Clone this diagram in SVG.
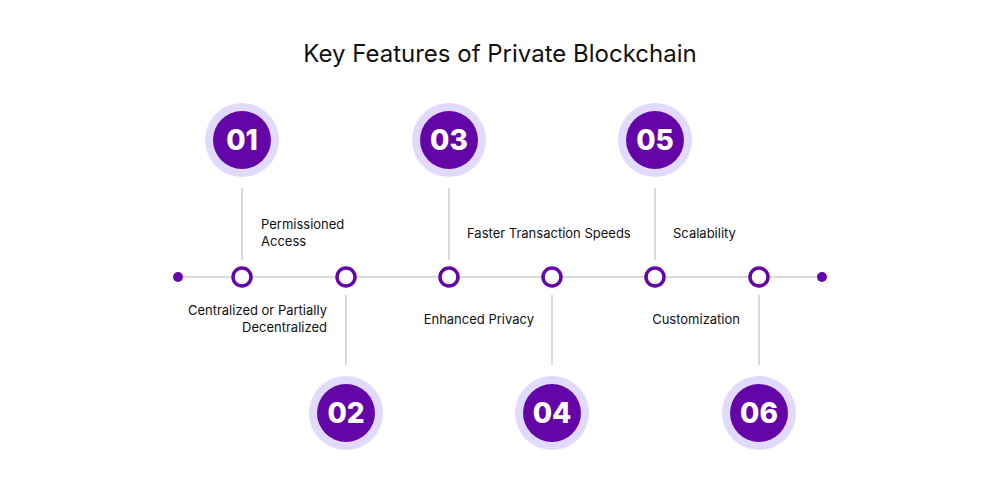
<svg xmlns="http://www.w3.org/2000/svg" width="1000" height="500" viewBox="0 0 1000 500">
<style>
.halo{fill:#e2dafc}.core{fill:#6405a8}.num{font-family:Inter,"Liberation Sans",sans-serif;font-weight:800;font-size:28px;fill:#fff;text-anchor:middle}
.ring{fill:#fff;stroke:#6405a8;stroke-width:3.5}.ln{stroke:#d9d9d9;stroke-width:2;fill:none}
.lbl{font-family:Inter,"Liberation Sans",sans-serif;font-size:13px;fill:#111}
.title{font-family:Inter,"Liberation Sans",sans-serif;font-size:24px;fill:#111;text-anchor:middle}
</style>
<rect width="1000" height="500" fill="#fff"/>
<text class="title" x="500" y="62">Key Features of Private Blockchain</text>
<g id="connectors">
<line class="ln" x1="178" y1="277" x2="822" y2="277"/>
<line class="ln" x1="242" y1="188" x2="242" y2="260"/>
<line class="ln" x1="449" y1="188" x2="449" y2="260"/>
<line class="ln" x1="655" y1="188" x2="655" y2="260"/>
<line class="ln" x1="346" y1="295" x2="346" y2="365"/>
<line class="ln" x1="552" y1="295" x2="552" y2="365"/>
<line class="ln" x1="759" y1="295" x2="759" y2="365"/>
</g>
<circle cx="178" cy="277" r="5" class="core"/>
<circle cx="822" cy="277" r="5" class="core"/>
<g id="n1"><circle class="halo" cx="242" cy="140" r="37"/><circle class="core" cx="242" cy="140" r="29"/><text class="num" x="242" y="150">01</text><circle class="ring" cx="242" cy="277" r="9"/><text class="lbl" x="261" y="229">Permissioned</text><text class="lbl" x="261" y="246">Access</text></g>
<g id="n2"><circle class="halo" cx="346" cy="413" r="37"/><circle class="core" cx="346" cy="413" r="29"/><text class="num" x="346" y="423">02</text><circle class="ring" cx="346" cy="277" r="9"/><text class="lbl" x="327" y="315" text-anchor="end">Centralized or Partially</text><text class="lbl" x="327" y="332" text-anchor="end">Decentralized</text></g>
<g id="n3"><circle class="halo" cx="449" cy="140" r="37"/><circle class="core" cx="449" cy="140" r="29"/><text class="num" x="449" y="150">03</text><circle class="ring" cx="449" cy="277" r="9"/><text class="lbl" x="467" y="238">Faster Transaction Speeds</text></g>
<g id="n4"><circle class="halo" cx="552" cy="413" r="37"/><circle class="core" cx="552" cy="413" r="29"/><text class="num" x="552" y="423">04</text><circle class="ring" cx="552" cy="277" r="9"/><text class="lbl" x="534" y="324" text-anchor="end">Enhanced Privacy</text></g>
<g id="n5"><circle class="halo" cx="655" cy="140" r="37"/><circle class="core" cx="655" cy="140" r="29"/><text class="num" x="655" y="150">05</text><circle class="ring" cx="655" cy="277" r="9"/><text class="lbl" x="673" y="238">Scalability</text></g>
<g id="n6"><circle class="halo" cx="759" cy="413" r="37"/><circle class="core" cx="759" cy="413" r="29"/><text class="num" x="759" y="423">06</text><circle class="ring" cx="759" cy="277" r="9"/><text class="lbl" x="740" y="324" text-anchor="end">Customization</text></g>
</svg>
